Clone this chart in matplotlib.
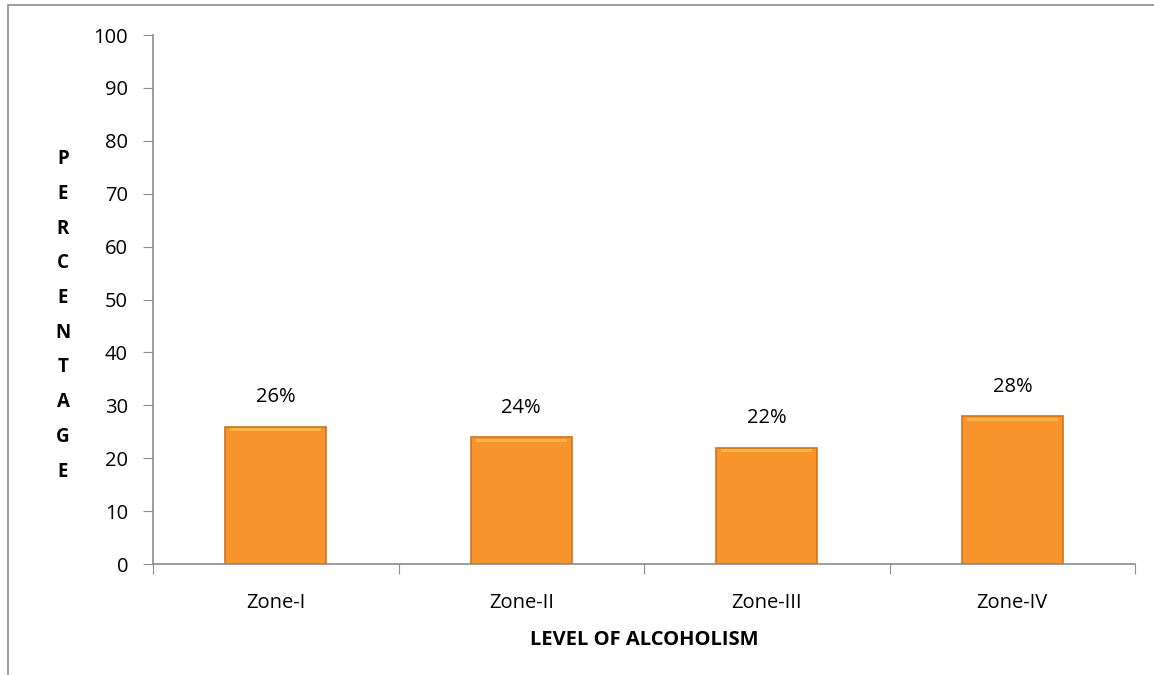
import matplotlib.pyplot as plt
from matplotlib.patches import Rectangle

zones = ["Zone-I", "Zone-II", "Zone-III", "Zone-IV"]
percent = [26, 24, 22, 28]
y_ticks = list(range(0, 101, 10))

plt.rcParams['font.family'] = ['Open Sans', 'DejaVu Sans']

fig = plt.figure(figsize=(11.54, 6.75), dpi=100)
ax = fig.add_axes([0.1326, 0.1644, 0.851, 0.7836])

# outer chart frame (only left and top edges show in the picture)
fig.patches.append(Rectangle((8 / 1154, -0.1), 1.2, 1 - 5 / 675 + 0.1,
                             transform=fig.transFigure, fill=False,
                             edgecolor='#8c8c8c', linewidth=1.2, clip_on=False))

x = range(len(zones))
bars = ax.bar(x, percent, width=0.41, color='#F7942B', edgecolor='#CF7428',
              linewidth=1.2, zorder=3)
# light bevel along the top of each bar
ax.bar(x, [0.6] * len(zones), bottom=[v - 0.9 for v in percent], width=0.37,
       color='#FAB444', linewidth=0, zorder=4)
for b, v in zip(bars, percent):
    ax.annotate("%d%%" % v, (b.get_x() + b.get_width() / 2, v),
                xytext=(0, 21), textcoords='offset points',
                ha='center', va='center', fontsize=14.5)

ax.set_xlim(-0.5, len(zones) - 0.5)
ax.set_ylim(0, 100)
ax.set_yticks(y_ticks)
ax.set_xticks([i - 0.5 for i in range(len(zones) + 1)])
ax.set_xticklabels([])
ax.set_xticks(list(x), minor=True)
ax.set_xticklabels(zones, minor=True, fontsize=14.5)
ax.tick_params(axis='x', which='minor', length=0, pad=21)
ax.tick_params(axis='x', which='major', length=7, color='#8c8c8c', direction='out')
ax.tick_params(axis='y', length=7, color='#8c8c8c', labelsize=14.5, pad=11)

for s in ['top', 'right']:
    ax.spines[s].set_visible(False)
for s in ['left', 'bottom']:
    ax.spines[s].set_color('#8c8c8c')
    ax.spines[s].set_linewidth(1.2)

ax.set_xlabel("LEVEL OF ALCOHOLISM", fontsize=14.5, fontweight='bold', labelpad=12)
ax.text(-0.0917, 0.47, "\n".join("PERCENTAGE"), transform=ax.transAxes,
        ha='center', va='center', fontsize=13.5, fontweight='bold', linespacing=1.98)

fig.savefig("out.png", dpi=100)
